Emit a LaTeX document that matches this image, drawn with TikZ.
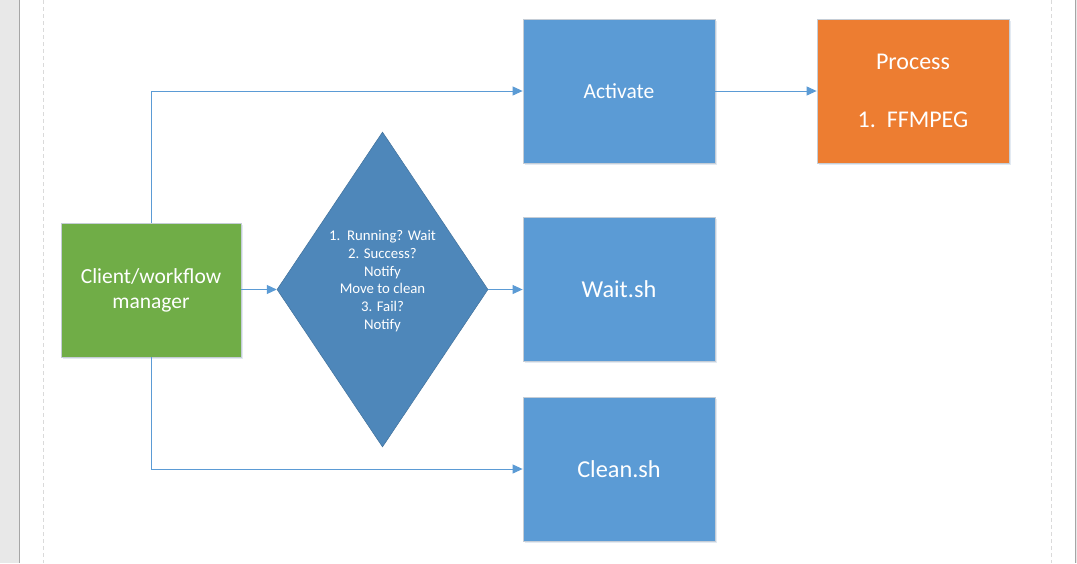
\documentclass[tikz,border=0pt]{standalone}
\usepackage{fontspec}
\setmainfont{Carlito}
\usetikzlibrary{arrows.meta,shapes.geometric}
\definecolor{boxblue}{HTML}{5B9BD5}
\definecolor{boxgreen}{HTML}{70AD47}
\definecolor{boxorange}{HTML}{ED7D31}
\definecolor{diafill}{HTML}{4E87BA}
\definecolor{diaedge}{HTML}{41719C}
\definecolor{edgegray}{HTML}{C5CDD6}
\definecolor{stripgray}{HTML}{E8E8E8}
\definecolor{stripline}{HTML}{A6A6A6}
\definecolor{guide}{HTML}{DADADA}
\definecolor{shadowc}{HTML}{E3EAF2}
\tikzset{
  proc/.style={draw=edgegray, line width=0.8pt, minimum width=192pt, minimum height=144pt,
    inner sep=0pt, text=white, align=center, font=\fontsize{21.5}{25}\selectfont,
    preaction={fill=shadowc, transform canvas={xshift=1.5pt,yshift=-2pt}}},
  conn/.style={draw=boxblue, line width=1pt, -{Triangle[length=10pt,width=9pt]}},
  plain/.style={draw=boxblue, line width=1pt}
}
\begin{document}
\begin{tikzpicture}[x=1pt,y=-1pt]
\useasboundingbox (0,0) rectangle (1077,563);
\fill[white] (0,0) rectangle (1077,563);
% page frame
\fill[stripgray] (0,0) rectangle (19.5,563);
\draw[stripline, line width=1.3pt] (19.5,0) -- (19.5,563);
\draw[stripline, line width=1.3pt] (1075.5,0) -- (1075.5,563);
\fill[stripgray] (1076.2,0) rectangle (1077,563);
\draw[guide, line width=0.8pt, dash pattern=on 4pt off 3pt] (43.5,0) -- (43.5,563);
\draw[guide, line width=0.8pt, dash pattern=on 4pt off 3pt] (1051.5,0) -- (1051.5,563);

% nodes
\node[proc, fill=boxgreen, minimum width=180pt, minimum height=134pt] (client) at (151,290)
  {Client/workflow\\manager};
\node[proc, fill=boxblue] (activate) at (619,91) {Activate};
\node[proc, fill=boxorange] (process) at (913,91) {};
\node[text=white, font=\fontsize{24}{28}\selectfont] (proclabel) at (913,62) {Process};
\node[text=white, font=\fontsize{24}{28}\selectfont] (proclist) at (913,120) {1.\ \ FFMPEG};
\node[proc, fill=boxblue, font=\fontsize{24.3}{28}\selectfont] (wait) at (619,289) {Wait.sh};
\node[proc, fill=boxblue, font=\fontsize{24.3}{28}\selectfont] (clean) at (619,469) {Clean.sh};
\node[diamond, aspect=0.67, fill=diafill, draw=diaedge, line width=0.5pt,
  minimum width=211pt, minimum height=315pt, inner sep=0pt] (decide) at (382.5,289.5) {};
\node[text=white, align=center, font=\fontsize{14.8}{17.8}\selectfont] (decidetext) at (382.5,281)
  {1.\ \ Running? Wait\\2. Success?\\Notify\\Move to clean\\3. Fail?\\Notify};

% connectors
\coordinate (topbend) at (151,91);
\coordinate (botbend) at (151,469);
\draw[plain] (client.north) -- (topbend);
\draw[conn] (topbend) -- (activate.west);
\draw[plain] (client.south) -- (botbend);
\draw[conn] (botbend) -- (clean.west);
\draw[conn] (client.east |- decide.west) -- (decide.west);
\draw[conn] (decide.east) -- (decide.east -| wait.west);
\draw[conn] (activate.east) -- (process.west);
\end{tikzpicture}
\end{document}
